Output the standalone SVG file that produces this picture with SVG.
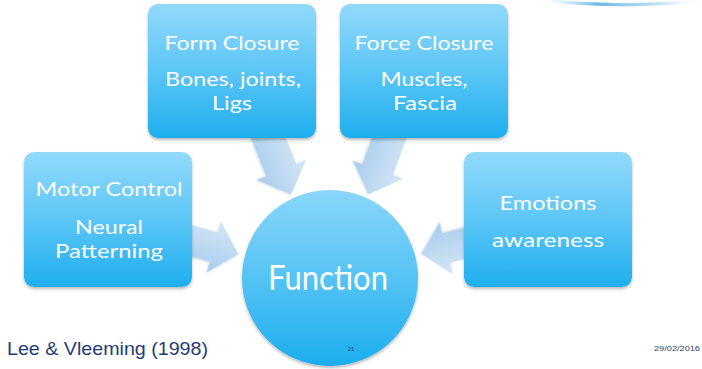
<svg xmlns="http://www.w3.org/2000/svg" width="702" height="369" viewBox="0 0 702 369">
<style>
.box{fill:url(#boxGrad);filter:url(#shadow)}
.lbl{font-family:"Lato","Open Sans",sans-serif;font-size:20px;fill:#ffffff;text-anchor:middle}
.big{font-family:"Lato","Open Sans",sans-serif;font-size:34px;fill:#ffffff;text-anchor:middle}
.arrow{fill:url(#arrowGrad);stroke:#c4dcf2;stroke-width:0.6;filter:url(#ashadow)}
</style>
<defs>
<linearGradient id="boxGrad" x1="0" y1="0" x2="0" y2="1">
<stop offset="0" stop-color="#93d9fb"/>
<stop offset="0.5" stop-color="#5cc6f6"/>
<stop offset="1" stop-color="#1eaeee"/>
</linearGradient>
<linearGradient id="circGrad" x1="0" y1="0" x2="0" y2="1">
<stop offset="0" stop-color="#8ad6fa"/>
<stop offset="0.5" stop-color="#55c3f4"/>
<stop offset="1" stop-color="#1cadee"/>
</linearGradient>
<linearGradient id="arrowGrad" x1="0" y1="0" x2="0" y2="1">
<stop offset="0" stop-color="#d3e6f6"/>
<stop offset="1" stop-color="#a8cced"/>
</linearGradient>
<linearGradient id="arcGrad" x1="0" y1="0" x2="1" y2="0">
<stop offset="0" stop-color="#d8effb" stop-opacity="0"/>
<stop offset="0.35" stop-color="#6fb9e6"/>
<stop offset="0.75" stop-color="#bfe3f7"/>
<stop offset="1" stop-color="#eef8fd" stop-opacity="0"/>
</linearGradient>
<filter id="shadow" x="-10%" y="-10%" width="120%" height="125%">
<feDropShadow dx="0" dy="2" stdDeviation="1.8" flood-color="#000" flood-opacity="0.28"/>
</filter>
<filter id="ashadow" x="-20%" y="-20%" width="140%" height="140%">
<feDropShadow dx="0" dy="1" stdDeviation="1" flood-color="#7a8ea0" flood-opacity="0.3"/>
</filter>
</defs>
<rect x="0" y="0" width="702" height="369" fill="#ffffff"/>
<path d="M540,0 Q620,9 700,1" fill="none" stroke="url(#arcGrad)" stroke-width="3"/>
<g id="connectors">
<polygon class="arrow" transform="translate(262,122) rotate(68.3)" points="0,-16 52,-16 52,-26 78,0 52,26 52,16 0,16"/>
<polygon class="arrow" transform="translate(395,122) rotate(110.2)" points="0,-16 51,-16 51,-26 77,0 51,26 51,16 0,16"/>
<polygon class="arrow" transform="translate(185,239) rotate(15.8)" points="0,-15 30,-15 30,-26 55,0 30,26 30,15 0,15"/>
<polygon class="arrow" transform="translate(470,242) rotate(166.2)" points="0,-15 25,-15 25,-26 50,0 25,26 25,15 0,15"/>
</g>
<g id="form-closure">
<rect class="box" x="148" y="4" width="168" height="134" rx="10"/>
<text class="lbl" x="232" y="50" textLength="135" lengthAdjust="spacingAndGlyphs">Form Closure</text>
<text class="lbl" x="233" y="86" textLength="136" lengthAdjust="spacingAndGlyphs">Bones, joints,</text>
<text class="lbl" x="232" y="110" textLength="40" lengthAdjust="spacingAndGlyphs">Ligs</text>
</g>
<g id="force-closure">
<rect class="box" x="340" y="4" width="168" height="134" rx="10"/>
<text class="lbl" x="424" y="50" textLength="139" lengthAdjust="spacingAndGlyphs">Force Closure</text>
<text class="lbl" x="424" y="86" textLength="87" lengthAdjust="spacingAndGlyphs">Muscles,</text>
<text class="lbl" x="425" y="110" textLength="64" lengthAdjust="spacingAndGlyphs">Fascia</text>
</g>
<g id="motor-control">
<rect class="box" x="24" y="152" width="168" height="135" rx="10"/>
<text class="lbl" x="109" y="196" textLength="147" lengthAdjust="spacingAndGlyphs">Motor Control</text>
<text class="lbl" x="109" y="234" textLength="68" lengthAdjust="spacingAndGlyphs">Neural</text>
<text class="lbl" x="109" y="258" textLength="108" lengthAdjust="spacingAndGlyphs">Patterning</text>
</g>
<g id="emotions">
<rect class="box" x="464" y="152" width="168" height="135" rx="10"/>
<text class="lbl" x="548" y="210" textLength="97" lengthAdjust="spacingAndGlyphs">Emotions</text>
<text class="lbl" x="548" y="247" textLength="112" lengthAdjust="spacingAndGlyphs">awareness</text>
</g>
<g id="function">
<ellipse cx="330" cy="278" rx="88" ry="88" fill="url(#circGrad)" filter="url(#shadow)"/>
<text class="big" x="328" y="290" textLength="120" lengthAdjust="spacingAndGlyphs">Function</text>
</g>
<text x="7" y="355" font-family="Liberation Sans, Arial, sans-serif" font-size="19" fill="#1f3c78" textLength="201" lengthAdjust="spacingAndGlyphs">Lee &amp; Vleeming (1998)</text>
<text x="351" y="351" font-family="Liberation Sans, Arial, sans-serif" font-size="6" fill="#2a3f66" text-anchor="middle">21</text>
<text x="654" y="351" font-family="Liberation Sans, Arial, sans-serif" font-size="7" fill="#2a3f66" textLength="46" lengthAdjust="spacingAndGlyphs">29/02/2016</text>
</svg>
